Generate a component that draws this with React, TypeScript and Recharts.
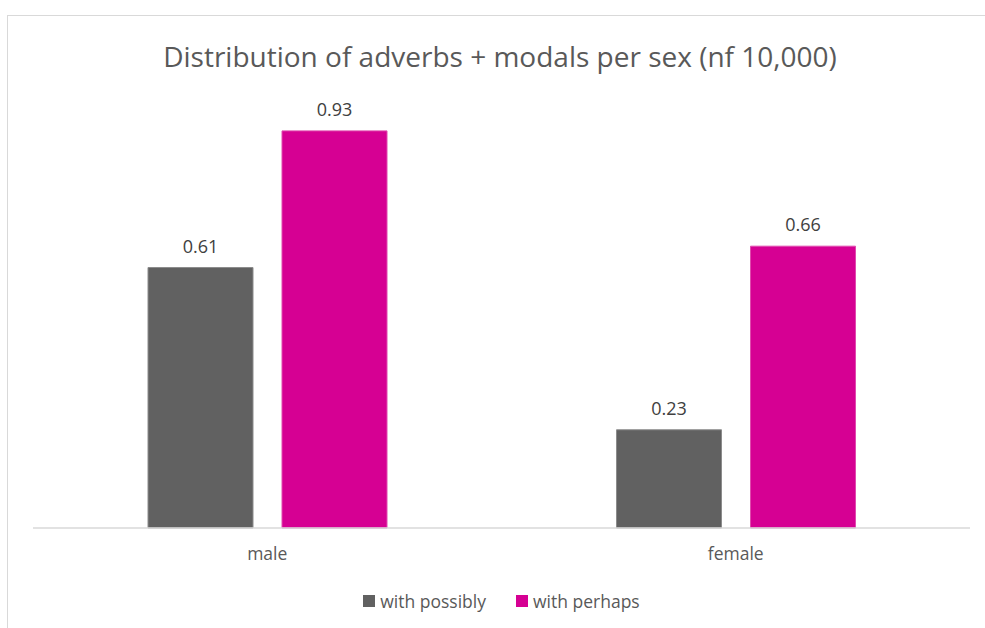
import { BarChart, Bar, XAxis, YAxis, Legend, LabelList } from "recharts";

const categories = ["male", "female"];
const withPossibly = [0.61, 0.23];
const withPerhaps = [0.93, 0.66];

const SERIES = [
  { key: "possibly", name: "with possibly", color: "#616161", stroke: "#8c8c8c" },
  { key: "perhaps", name: "with perhaps", color: "#d60093", stroke: "#e04aae" },
];

const data = categories.map((c, i) => ({
  sex: c,
  possibly: withPossibly[i],
  perhaps: withPerhaps[i],
}));

const FONT = "'Open Sans', sans-serif";

function LegendContent() {
  return (
    <div
      style={{
        display: "flex",
        justifyContent: "center",
        gap: 30,
        fontFamily: FONT,
        fontSize: 17.5,
        color: "#595959",
        paddingTop: 1,
      }}
    >
      {SERIES.map((s) => (
        <div key={s.key} style={{ display: "flex", alignItems: "center", gap: 5 }}>
          <span style={{ width: 12, height: 12, background: s.color, display: "inline-block" }} />
          <span>{s.name}</span>
        </div>
      ))}
    </div>
  );
}

export default function App() {
  return (
    <div style={{ position: "absolute", left: 0, top: 0, width: 985, height: 628, background: "#fff", overflow: "hidden" }}>
      {/* chart area border (only top and left visible) */}
      <div
        style={{
          position: "absolute",
          left: 7,
          top: 15,
          width: 1000,
          height: 700,
          borderTop: "1px solid #d9d9d9",
          borderLeft: "1px solid #d9d9d9",
        }}
      />
      <div
        style={{
          position: "absolute",
          left: 0,
          top: 39,
          width: 1000,
          textAlign: "center",
          fontFamily: FONT,
          fontSize: 28,
          color: "#595959",
          lineHeight: "34px",
        }}
      >
        Distribution of adverbs + modals per sex (nf 10,000)
      </div>
      <div style={{ position: "absolute", left: 0, top: 0 }}>
        <BarChart
          width={985}
          height={628}
          data={data}
          margin={{ top: 101, right: 15, left: 33, bottom: 0 }}
          barSize={105}
          barGap={29}
        >
          <XAxis
            dataKey="sex"
            axisLine={{ stroke: "#d9d9d9", strokeWidth: 1.5 }}
            tickLine={false}
            tickSize={0}
            tickMargin={20}
            height={60}
            tick={{ fill: "#595959", fontSize: 17.5, fontFamily: FONT }}
          />
          <YAxis hide domain={[0, 1]} />
          <Legend
            verticalAlign="bottom"
            wrapperStyle={{ height: 40 }}
            content={() => <LegendContent />}
          />
          {SERIES.map((s) => (
            <Bar
              key={s.key}
              dataKey={s.key}
              name={s.name}
              fill={s.color}
              stroke={s.stroke}
              strokeWidth={1}
              isAnimationActive={false}
            >
              <LabelList
                dataKey={s.key}
                position="top"
                offset={15}
                fill="#404040"
                fontSize={18}
                fontFamily={FONT}
              />
            </Bar>
          ))}
        </BarChart>
      </div>
    </div>
  );
}
